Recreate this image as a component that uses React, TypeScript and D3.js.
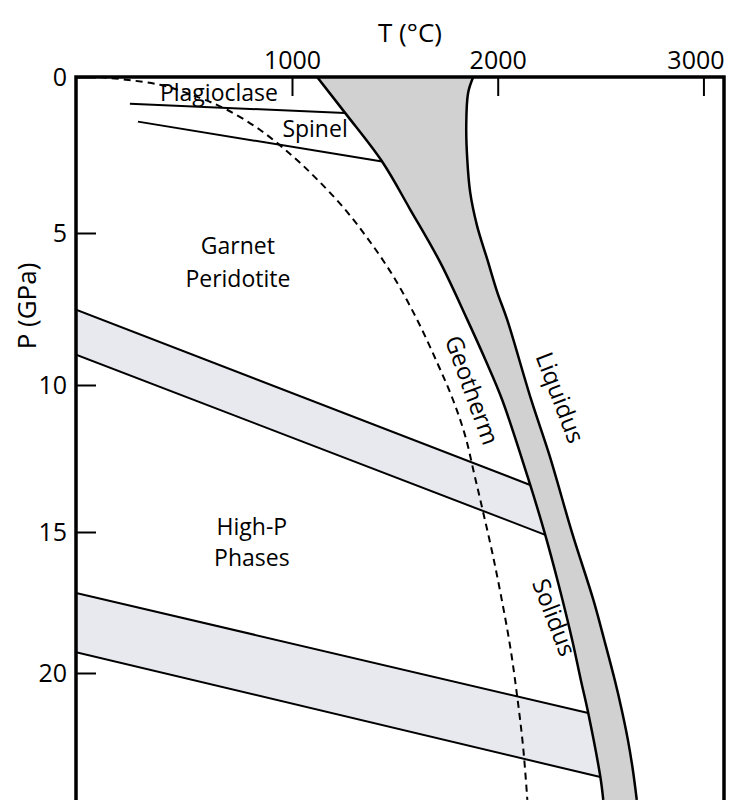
import React, { useEffect, useRef } from 'react';
import * as d3 from 'd3';

const W = 731;
const H = 800;

// temperature (°C), pressure (GPa) pairs
const solidus: [number, number][] = [
  [1122, 0], [1258, 1.15], [1438, 2.71], [1574, 4.24], [1720, 5.96], [1852, 7.85],
  [1940, 9.17], [2022, 10.51], [2158, 13.4], [2231, 15.1], [2299, 16.95], [2362, 18.83],
  [2404, 20.25], [2440, 21.42], [2499, 23.69], [2513, 24.5],
];

const liquidus: [number, number][] = [
  [1881, 0], [1856, 0.51], [1847, 1.59], [1852, 2.64], [1866, 3.69], [1900, 4.78],
  [1949, 5.86], [1998, 6.95], [2046, 7.85], [2163, 10.51], [2251, 12.38],
  [2362, 15.04], [2465, 17.41], [2518, 18.83], [2569, 20.25], [2603, 21.31],
  [2633, 22.38], [2657, 23.44], [2676, 24.5],
];

const geotherm: [number, number][] = [
  [66, 0], [358, 0.25], [552, 0.67], [684, 1.05], [844, 1.69], [1005, 2.55],
  [1122, 3.28], [1248, 4.17], [1370, 5.2], [1492, 6.42], [1608, 7.85], [1706, 9.27],
  [1783, 10.51], [1842, 11.73], [1886, 13.03], [1929, 14.32], [1973, 15.71],
  [2017, 17.3], [2061, 19.08], [2095, 20.85], [2124, 22.66], [2144, 24.5],
];

const plagSpinel: [number, number][] = [[212, 0.86], [1258, 1.15]];
const spinelGarnet: [number, number][] = [[251, 1.43], [1438, 2.71]];

// garnet -> high-P and high-P -> deeper transitions (upper and lower edge)
const bandUpper: [number, number][][] = [
  [[-50, 7.52], [2158, 13.4]],
  [[-50, 17.16], [2440, 21.42]],
];
const bandLower: [number, number][][] = [
  [[-50, 9.0], [2231, 15.1]],
  [[-50, 19.26], [2499, 23.69]],
];

const tTicks = [1000, 2000, 3000];
const pTicks = [0, 5, 10, 15, 20];

const App = () => {
  const ref = useRef<SVGSVGElement>(null);

  useEffect(() => {
    const svg = d3.select(ref.current);
    svg.selectAll('*').remove();

    const x = d3.scaleLinear().domain([-50, 3100]).range([76, 724]);
    // the printed pressure ticks are not evenly spaced
    const y = d3.scaleLinear().domain([0, 5, 10, 15, 20]).range([77, 233, 385, 532, 673]);

    const curveLine = d3.line<[number, number]>()
      .x(d => x(d[0]))
      .y(d => y(d[1]))
      .curve(d3.curveCatmullRom.alpha(0.5));
    const straight = d3.line<[number, number]>()
      .x(d => x(d[0]))
      .y(d => y(d[1]));

    svg.append('clipPath').attr('id', 'plot')
      .append('rect')
      .attr('x', x(-50)).attr('y', y(0))
      .attr('width', x(3100) - x(-50)).attr('height', H - y(0));

    const g = svg.append('g').attr('clip-path', 'url(#plot)');

    // transition bands
    bandUpper.forEach((up, i) => {
      const lo = bandLower[i];
      const along = solidus.filter(d => d[1] >= up[1][1] && d[1] <= lo[1][1]);
      const poly: [number, number][] = [up[0], ...along, lo[0]];
      g.append('path')
        .attr('d', straight(poly) + 'Z')
        .attr('fill', '#e8e9ef');
    });

    // melting interval
    const sPath = curveLine(solidus) as string;
    const lPath = curveLine(liquidus.slice().reverse()) as string;
    g.append('path')
      .attr('d', sPath + 'L' + lPath.slice(1) + 'Z')
      .attr('fill', '#d1d1d1');

    [...bandUpper, ...bandLower, plagSpinel, spinelGarnet].forEach(seg => {
      g.append('path')
        .attr('d', straight(seg))
        .attr('fill', 'none')
        .attr('stroke', '#000')
        .attr('stroke-width', 2);
    });

    [solidus, liquidus].forEach(c => {
      g.append('path')
        .attr('d', curveLine(c))
        .attr('fill', 'none')
        .attr('stroke', '#000')
        .attr('stroke-width', 2.5);
    });

    g.append('path')
      .attr('d', curveLine(geotherm))
      .attr('fill', 'none')
      .attr('stroke', '#000')
      .attr('stroke-width', 2)
      .attr('stroke-dasharray', '7 5');

    // frame
    svg.append('path')
      .attr('d', `M${x(-50)},${H}V${y(0)}H${x(3100)}V${H}`)
      .attr('fill', 'none')
      .attr('stroke', '#000')
      .attr('stroke-width', 3.5)
      .attr('stroke-linejoin', 'miter');

    const font = "'Open Sans', sans-serif";

    const xAxis = svg.append('g')
      .attr('transform', `translate(0,${y(0)})`)
      .call(d3.axisTop(x).tickValues(tTicks).tickSizeInner(-19).tickSizeOuter(0).tickPadding(8).tickFormat(d3.format('d')));
    xAxis.select('.domain').remove();
    xAxis.selectAll('line').attr('stroke-width', 2);
    xAxis.selectAll('text').attr('font-size', 25).attr('font-family', font).attr('fill', '#000');
    xAxis.selectAll('text').filter((d: any) => d === 3000).attr('dx', -8);

    const yAxis = svg.append('g')
      .attr('transform', `translate(${x(-50)},0)`)
      .call(d3.axisLeft(y).tickValues(pTicks).tickSizeInner(-20).tickSizeOuter(0).tickPadding(9));
    yAxis.select('.domain').remove();
    yAxis.selectAll('line').attr('stroke-width', 2);
    yAxis.selectAll('text').attr('font-size', 25).attr('font-family', font).attr('fill', '#000');

    svg.append('text')
      .attr('x', 410).attr('y', 42)
      .attr('text-anchor', 'middle')
      .attr('font-size', 26).attr('font-family', font)
      .text('T (°C)');

    svg.append('text')
      .attr('transform', 'translate(36,306) rotate(-90)')
      .attr('text-anchor', 'middle')
      .attr('font-size', 26).attr('font-family', font)
      .text('P (GPa)');

    const label = (txt: string, T: number, P: number, dy = 0) =>
      svg.append('text')
        .attr('x', x(T)).attr('y', y(P) + dy)
        .attr('text-anchor', 'middle')
        .attr('font-size', 23).attr('font-family', font)
        .text(txt);

    label('Plagioclase', 645, 0.76);
    label('Spinel', 1112, 1.91);
    label('Garnet', 737, 5.7);
    label('Peridotite', 737, 5.7, 33);
    label('High-P', 805, 15.1);
    label('Phases', 805, 15.1, 31);

    const rotated = (txt: string, T: number, P: number, angle: number, size: number) =>
      svg.append('text')
        .attr('transform', `translate(${x(T)},${y(P)}) rotate(${angle})`)
        .attr('text-anchor', 'middle')
        .attr('dominant-baseline', 'middle')
        .attr('font-size', size).attr('font-family', font)
        .text(txt);

    rotated('Liquidus', 2294, 10.45, 69, 24);
    rotated('Solidus', 2265, 18.05, 69, 24);
    rotated('Geotherm', 1866, 10.2, 70, 24);
  }, []);

  return (
    <svg
      ref={ref}
      width={W}
      height={H}
      style={{ position: 'absolute', left: 0, top: 0, background: '#fff' }}
    />
  );
};

export default App;
